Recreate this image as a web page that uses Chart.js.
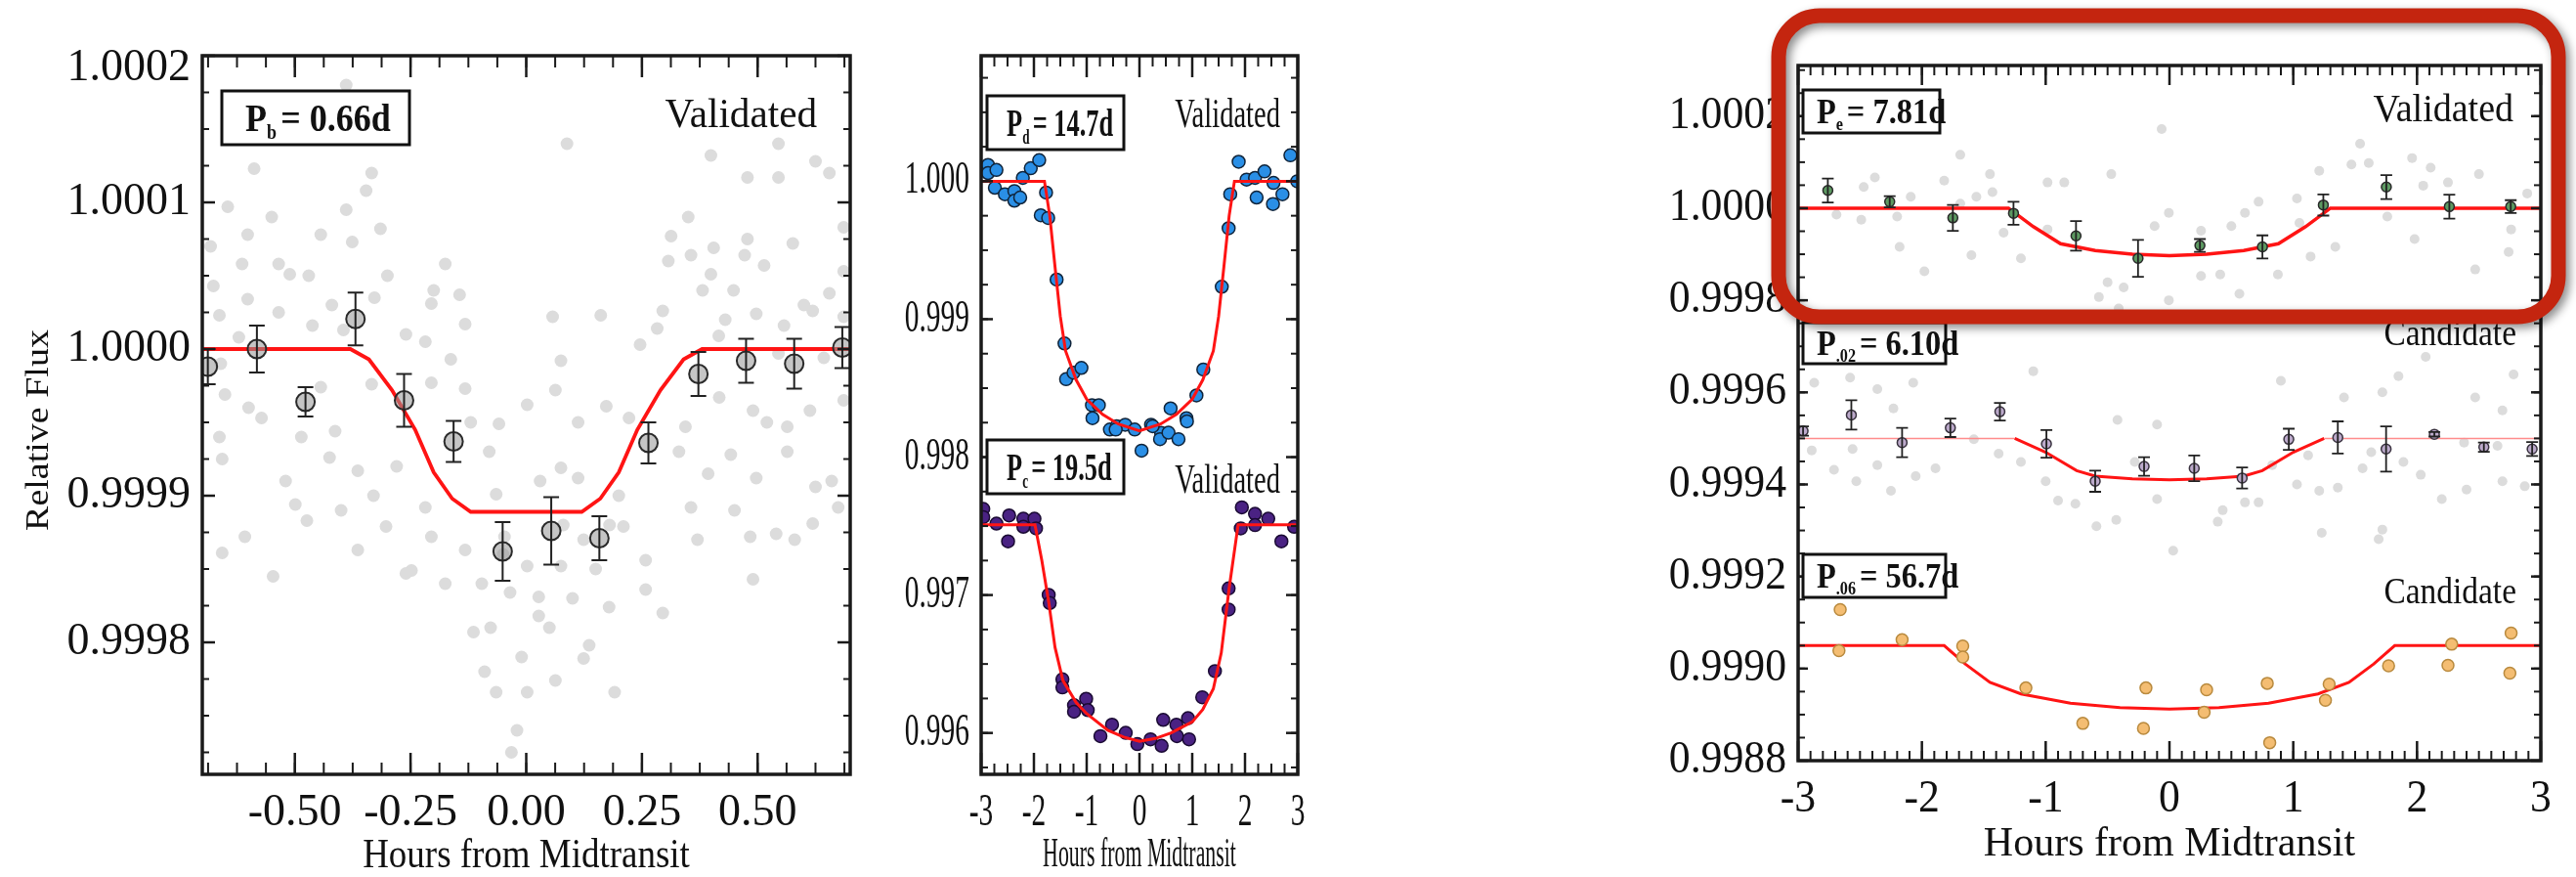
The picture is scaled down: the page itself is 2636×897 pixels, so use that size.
<!DOCTYPE html>
<html>
<head>
<meta charset="utf-8">
<script src="https://cdn.jsdelivr.net/npm/chart.js@4.4.1/dist/chart.umd.min.js"></script>
<style>
  html, body { margin: 0; padding: 0; background: #fff; }
  #wrap { position: relative; width: 2636px; height: 897px; overflow: hidden; }
  canvas { position: absolute; top: 0; }
</style>
</head>
<body>
<div id="wrap">
  <canvas id="c1" width="900" height="897" style="left:0px"></canvas>
  <canvas id="c2" width="480" height="897" style="left:880px"></canvas>
  <canvas id="c3" width="936" height="897" style="left:1700px"></canvas>
</div>
<script>
// ---------- panel 1 : P_b = 0.66d ----------
const p1XTicks = [-0.5, -0.25, 0, 0.25, 0.5];
const p1YTicks = [0.9998, 0.9999, 1.0000, 1.0001, 1.0002];
const p1Raw = [
  [-0.389,1.00018],[-0.588,1.000123],[-0.334,1.00012],[0.088,1.00014],[0.545,1.00014],[0.399,1.000132],
  [0.625,1.000128],[0.478,1.000117],[0.545,1.000117],[0.655,1.00012],[-0.346,1.000108],[-0.389,1.000095],
  [-0.645,1.000097],[-0.315,1.000082],[-0.602,1.000078],[-0.444,1.000078],[-0.376,1.000073],[-0.682,1.00007],
  [0.313,1.000077],[0.405,1.000069],[0.478,1.000075],[0.576,1.000072],[0.686,1.000083],[0.356,1.000064],
  [0.472,1.000064],[0.307,1.00006],[-0.175,1.000058],[-0.535,1.000058],[-0.614,1.000058],[0.514,1.000057],
  [0.399,1.000051],[0.686,1.000053],[-0.511,1.000051],[-0.676,1.000043],[-0.2,1.00004],[-0.144,1.000037],
  [0.381,1.00004],[0.448,1.00004],[0.655,1.000038],[-0.602,1.000034],[-0.328,1.000035],[0.295,1.000026],
  [0.619,1.000026],[0.497,1.000024],[0.057,1.000022],[0.161,1.000023],[-0.205,1.000031],[-0.132,1.000017],
  [-0.663,1.000023],[-0.535,1.000025],[-0.395,1.000013],[-0.462,1.000016],[0.283,1.000014],[0.557,1.000016],
  [0.686,1.000022],[-0.621,1.000008],[0.246,1.000003],[0.416,1.000009],[-0.218,1.000005],[0.075,0.999992],
  [0.643,0.999994],[0.545,0.999997],[-0.163,0.999993],[0.002,0.999962],[0.173,0.999961],[-0.132,0.999973],
  [-0.205,0.999977],[0.063,0.999972],[0.417,0.999967],[0.613,0.999958],[0.686,0.999965],[-0.651,0.999969],
  [-0.444,0.999974],[-0.334,0.999976],[-0.572,0.999953],[-0.413,0.999944],[0.222,0.999953],[0.344,0.999947],
  [0.49,0.999958],[0.564,0.999947],[-0.059,0.999949],[0.112,0.99995],[-0.663,0.99994],[-0.486,0.99994],
  [-0.657,0.999925],[-0.608,0.999872],[-0.657,0.999861],[-0.547,0.999845],[-0.499,0.999894],[-0.474,0.999883],
  [-0.425,0.999926],[-0.364,0.999917],[-0.364,0.999863],[-0.303,0.999879],[-0.248,0.999849],[-0.218,0.999892],
  [-0.205,0.999872],[-0.175,0.99984],[-0.132,0.999863],[-0.096,0.99984],[-0.114,0.999807],[-0.077,0.99981],
  [-0.065,0.999901],[-0.047,0.999872],[-0.035,0.999834],[0.002,0.999852],[0.027,0.999831],[0.075,0.999919],
  [0.075,0.999852],[0.112,0.999912],[0.124,0.99987],[0.136,0.999798],[0.124,0.999789],[0.027,0.999818],
  [0.179,0.999824],[0.21,0.999879],[0.258,0.999856],[0.258,0.999836],[0.295,0.99982],[0.356,0.999892],
  [0.393,0.999915],[0.442,0.999928],[0.497,0.999912],[0.484,0.999872],[0.54,0.999874],[0.564,0.99993],
  [0.625,0.999906],[0.619,0.999881],[0.674,0.999892],[0.49,0.999843],[-0.065,0.999766],[0.002,0.999766],
  [0.063,0.999774],[0.191,0.999766],[-0.02,0.99974],[-0.032,0.999725],[-0.26,0.999847],
  [-0.55,1.00009],[-0.47,1.00005],[-0.42,1.00003],[-0.3,1.00005],[-0.26,1.00001],[-0.66,0.99999],
  [-0.6,0.99996],[-0.52,0.99991],[-0.4,0.99989],[-0.33,0.9999],[-0.28,0.99992],[-0.12,0.99995],
  [-0.08,0.99993],[0.03,0.99991],[0.08,0.99988],[0.15,0.99985],[0.2,0.9999],[0.33,0.99993],
  [0.37,0.99987],[0.45,0.99989],[0.52,0.99995],[0.58,0.99987],[0.66,0.99991],[0.6,1.00003],
  [0.43,1.00002],[0.35,1.00009],[-0.01,0.99979],[0.05,0.99981],[-0.09,0.99978],[0.1,0.99983],
  [-0.05,0.99986],[0.18,0.99988]
];
const p1BinX = [-0.688,-0.582,-0.477,-0.369,-0.264,-0.157,-0.051,0.054,0.158,0.264,0.372,0.475,0.579,0.683];
const p1BinY = [0.999988,1.0,0.999964,1.0000205,0.999965,0.999937,0.999862,0.999876,0.999871,0.999936,0.999983,0.999992,0.99999,1.000001];
const p1BinErr = [0.000012,0.000016,0.00001,0.000018,0.000018,0.000014,0.00002,0.000023,0.000015,0.000014,0.000015,0.000015,0.000017,0.000014];
const p1ModelX = [-0.70,-0.38,-0.34,-0.29,-0.24,-0.20,-0.16,-0.12,0.12,0.16,0.20,0.24,0.29,0.34,0.38,0.70];
const p1ModelY = [1,1,0.999993,0.999972,0.999945,0.999916,0.999898,0.999889,0.999889,0.999898,0.999916,0.999945,0.999972,0.999993,1,1];

// ---------- panel 2 : P_d = 14.7d and P_c = 19.5d ----------
const p2XTicks = [-3, -2, -1, 0, 1, 2, 3];
const p2YTicks = [0.996, 0.997, 0.998, 0.999, 1.000];
const pdPoints = [
  [-2.87,1.000118],[-2.87,1.000059],[-2.71,1.000082],[-2.74,0.999953],[-2.55,0.999906],[-2.37,0.999929],
  [-2.37,0.999859],[-2.26,0.999882],[-2.21,1.000024],[-2.06,1.000094],[-1.9,1.000153],[-1.77,0.999918],
  [-1.87,0.999753],[-1.73,0.999734],[-1.57,0.999287],[-1.42,0.998824],[-1.39,0.998565],[-1.25,0.998612],
  [-1.1,0.998647],[-0.9,0.998376],[-0.77,0.998376],[-0.89,0.998282],[-0.56,0.9982],[-0.43,0.998224],
  [-0.27,0.998235],[-0.09,0.9982],[0.22,0.998235],[0.41,0.998176],[0.59,0.998353],[0.89,0.998282],
  [1.08,0.998447],[1.21,0.998635],[1.56,0.999235],[1.69,0.999659],[1.72,0.999906],[1.88,1.000141],
  [2.03,1.000012],[2.19,1.000024],[2.22,0.999882],[2.37,1.000071],[2.54,0.999988],[2.53,0.999835],
  [2.71,0.999906],[2.86,1.000188],[2.99,1.0],[0.04,0.998047],[0.39,0.99813],[0.55,0.998177],
  [0.74,0.99813],[0.9,0.998259],[-0.45,0.9982],[0.25,0.998224]
];
const pdModelX = [-3,-1.8,-1.7,-1.6,-1.5,-1.4,-1.2,-1.0,-0.7,-0.4,0,0.4,0.7,1.0,1.2,1.4,1.5,1.6,1.7,1.8,3];
const pdModelY = [1,1,0.99975,0.99938,0.99902,0.99877,0.99856,0.99842,0.99831,0.99824,0.99819,0.99824,0.99831,0.99842,0.99856,0.99877,0.99902,0.99938,0.99975,1,1];
const pcPoints = [
  [-2.96,0.997624],[-2.96,0.997565],[-2.71,0.997518],[-2.47,0.997577],[-2.49,0.997389],[-2.2,0.997553],
  [-2.2,0.997495],[-1.99,0.997553],[-1.96,0.997483],[-1.72,0.997001],[-1.7,0.996942],[-1.46,0.996389],
  [-1.46,0.99633],[-1.24,0.996201],[-1.24,0.996154],[-1.01,0.996248],[-0.98,0.996166],[-0.74,0.995977],
  [-0.52,0.99606],[-0.26,0.996001],[-0.04,0.995919],[0.21,0.995954],[0.42,0.995907],[0.45,0.996095],
  [0.7,0.99606],[0.71,0.995977],[0.92,0.996107],[0.94,0.995954],[1.19,0.996259],[1.43,0.996448],
  [1.69,0.997048],[1.69,0.996895],[1.92,0.997483],[1.94,0.997636],[2.19,0.997589],[2.19,0.997507],
  [2.44,0.997553],[2.69,0.997389],[2.93,0.997495]
];
const pcModelX = [-3,-1.98,-1.85,-1.72,-1.6,-1.45,-1.2,-1.0,-0.6,-0.3,0,0.3,0.6,1.0,1.2,1.4,1.55,1.7,1.87,3];
const pcModelY = [0.99751,0.99751,0.99725,0.99695,0.99662,0.99638,0.99622,0.99614,0.99602,0.99597,0.99594,0.99596,0.996,0.99608,0.99617,0.99632,0.99658,0.99705,0.99751,0.99751];

// ---------- panel 3 : P_e = 7.81d, P_.02 = 6.10d, P_.06 = 56.7d ----------
const p3XTicks = [-3, -2, -1, 0, 1, 2, 3];
const p3YTicks = [0.9988, 0.9990, 0.9992, 0.9994, 0.9996, 0.9998, 1.0000, 1.0002];
const peRaw = [
  [-0.063,1.000172],[-1.69,1.000116],[1.54,1.00014],[1.96,1.000109],[1.61,1.000098],[2.11,1.000088],
  [1.47,1.000095],[-1.45,1.000074],[-2.38,1.000067],[-1.82,1.00006],[-1.43,1.000035],[-0.985,1.000056],
  [-0.85,1.000056],[-0.47,1.000074],[1.21,1.000081],[2.5,1.000074],[2.25,1.000056],[2.05,1.000049],
  [1.03,1.000021],[2.89,1.000032],[-2.47,1.000046],[-2.09,1.000025],[-2.2,0.999982],[-1.69,1.00001],
  [-1.56,1.000025],[-2.49,0.999975],[-2.69,0.999986],[-1.34,0.999947],[-1.2,0.999891],[-2.18,0.999916],
  [-1.98,0.999863],[-1.6,0.999898],[-0.005,0.99999],[-0.12,0.999961],[0.255,0.999951],[0.5,0.999961],
  [0.61,0.99999],[0.72,1.000014],[0.876,0.999856],[1.14,0.999895],[1.34,0.999916],[1.98,0.999933],
  [2.76,0.999954],[2.74,0.999905],[2.47,0.999867],[-0.5,0.999839],[-0.37,0.999828],[-0.57,0.999807],
  [-0.41,0.999782],[-0.005,0.9998],[0.255,0.999853],[0.41,0.999856],[0.565,0.999814],[-0.985,0.999954],
  [1.76,0.999982],[1.05,0.999968]
];
const peBinX = [-2.76,-2.26,-1.75,-1.26,-0.755,-0.254,0.246,0.751,1.243,1.752,2.261,2.757];
const peBinY = [1.0000386,1.000014,0.999979,0.999989,0.99994,0.999891,0.999919,0.999916,1.000007,1.000046,1.0000035,1.0000035];
const peBinErr = [0.000026,0.000012,0.000028,0.000025,0.000032,0.00004,0.000014,0.000025,0.000023,0.000026,0.000026,0.000014];
const peModelX = [-3,-1.3,-1.1,-0.88,-0.6,-0.3,0,0.3,0.6,0.88,1.1,1.3,3];
const peModelY = [1,1,0.99996,0.999923,0.999908,0.9999,0.999897,0.9999,0.999908,0.999923,0.99996,1,1];

const p02Raw = [
  [-2.58,0.999632],[-2.87,0.999621],[-2.36,0.999607],[-2.07,0.999621],[-2.23,0.999565],[-1.1,0.999646],
  [-0.1,0.99953],[0.9,0.999625],[1.41,0.999589],[1.85,0.999635],[2.07,0.999677],[2.47,0.999589],
  [2.69,0.999561],[2.78,0.999639],[1.72,0.9996],[-0.42,0.99954],[-2.89,0.999474],[-2.71,0.999432],
  [-2.56,0.999477],[-2.53,0.999407],[-2.25,0.999386],[-2.36,0.999442],[-2.05,0.999418],[-1.89,0.999435],
  [-1.58,0.999498],[-1.38,0.999467],[-1.2,0.999449],[-1.0,0.999407],[-0.9,0.999365],[-0.76,0.999358],
  [-0.59,0.999309],[-0.43,0.999323],[-0.28,0.999449],[-0.1,0.999368],[0.03,0.999256],[0.39,0.999319],
  [0.43,0.999344],[0.61,0.999361],[0.72,0.999361],[0.83,0.999442],[1.03,0.9994],[1.12,0.999463],
  [1.21,0.999386],[1.23,0.999295],[1.36,0.999393],[1.56,0.999435],[1.63,0.99947],[1.72,0.999302],
  [1.69,0.999281],[1.89,0.999449],[2.03,0.999421],[2.2,0.999368],[2.4,0.999389],[2.69,0.999407],
  [2.87,0.999396],[2.65,0.999484],[2.38,0.999491]
];
const p02BinX = [-2.96,-2.57,-2.16,-1.77,-1.37,-0.994,-0.6,-0.205,0.2,0.587,0.964,1.36,1.75,2.14,2.54,2.93];
const p02BinY = [0.999516,0.999551,0.999491,0.999523,0.999558,0.999488,0.999407,0.999439,0.999435,0.999414,0.999498,0.999502,0.999477,0.999509,0.999481,0.999477];
const p02BinErr = [0.00001,0.000032,0.000032,0.00002,0.000019,0.00003,0.000023,0.00002,0.000028,0.000023,0.000023,0.000035,0.000049,0.000005,0.00001,0.000015];
const p02ModelX = [-3,-1.25,-1.0,-0.75,-0.6,-0.3,0,0.3,0.6,0.75,1.0,1.25,3];
const p02ModelY = [0.9995,0.9995,0.99947,0.99943,0.999418,0.999412,0.99941,0.999412,0.999418,0.99943,0.99947,0.9995,0.9995];

const p06Points = [
  [-2.66,0.999128],[-2.67,0.999039],[-2.16,0.999063],[-1.67,0.999049],[-1.67,0.999025],[-1.16,0.998958],
  [-0.7,0.998881],[-0.19,0.998958],[-0.21,0.99887],[0.3,0.998954],[0.28,0.998905],[0.79,0.998968],
  [0.81,0.998839],[1.29,0.998966],[1.26,0.998931],[1.77,0.999006],[2.25,0.999007],[2.28,0.999053],
  [2.76,0.999077],[2.75,0.99899]
];
const p06ModelX = [-3,-1.82,-1.65,-1.45,-1.2,-0.8,-0.4,0,0.4,0.8,1.2,1.45,1.65,1.82,3];
const p06ModelY = [0.99905,0.99905,0.99901,0.99897,0.998945,0.998925,0.998915,0.998912,0.998915,0.998925,0.998945,0.99897,0.99901,0.99905,0.99905];

// ---------- helpers ----------
const FONT = '"Liberation Serif", "Times New Roman", serif';
Chart.defaults.font.family = FONT;
Chart.defaults.color = '#111';

const pairs = arr => arr.map(p => ({ x: p[0], y: p[1] }));
const zip = (xs, ys) => xs.map((x, i) => ({ x: x, y: ys[i] }));

// inward tick marks + frame, like the IDL plots
const frame = {
  id: 'frame',
  afterDraw(chart, args, o) {
    const { ctx, chartArea: a, scales: { x, y } } = chart;
    ctx.save();
    ctx.strokeStyle = '#1a1a1a';
    const line = (x0, y0, x1, y1) => { ctx.beginPath(); ctx.moveTo(x0, y0); ctx.lineTo(x1, y1); ctx.stroke(); };
    const minors = (min, max, step) => {
      const out = [];
      for (let k = Math.ceil(min / step - 1e-6); k <= Math.floor(max / step + 1e-6); k++) out.push(k * step);
      return out;
    };
    ctx.lineWidth = 2;
    minors(x.min, x.max, o.xMinor).forEach(v => {
      const px = x.getPixelForValue(v);
      line(px, a.bottom, px, a.bottom - o.xMinorLen);
      line(px, a.top, px, a.top + o.xMinorLen);
    });
    minors(y.min, y.max, o.yMinor).forEach(v => {
      const py = y.getPixelForValue(v);
      line(a.left, py, a.left + o.yMinorLen, py);
      line(a.right, py, a.right - o.yMinorLen, py);
    });
    ctx.lineWidth = 2.5;
    x.ticks.forEach(t => {
      const px = x.getPixelForValue(t.value);
      line(px, a.bottom, px, a.bottom - o.xMajorLen);
      line(px, a.top, px, a.top + o.xMajorLen);
    });
    y.ticks.forEach(t => {
      const py = y.getPixelForValue(t.value);
      line(a.left, py, a.left + o.yMajorLen, py);
      line(a.right, py, a.right - o.yMajorLen, py);
    });
    ctx.lineWidth = 3.5;
    ctx.strokeRect(a.left, a.top, a.width, a.height);
    ctx.restore();
  }
};

// tick labels and axis titles, squeezed sideways the way the figure is
const axisText = {
  id: 'axisText',
  afterDraw(chart, args, o) {
    const { ctx, chartArea: a, scales: { x, y } } = chart;
    const put = (text, px, py, align, size, sx, rotated) => {
      ctx.save();
      ctx.translate(px, py);
      if (rotated) { ctx.rotate(-Math.PI / 2); ctx.scale(1, sx); } else { ctx.scale(sx, 1); }
      ctx.font = size + 'px ' + FONT;
      ctx.fillStyle = '#111';
      ctx.textAlign = align;
      ctx.textBaseline = 'middle';
      ctx.fillText(text, 0, 0);
      ctx.restore();
    };
    x.ticks.forEach(t => put(t.value.toFixed(o.xDigits), x.getPixelForValue(t.value), a.bottom + o.xLabelDy, 'center', o.size, o.sx));
    y.ticks.forEach(t => put(t.value.toFixed(o.yDigits), a.left - 12,
      Math.max(y.getPixelForValue(t.value), a.top + o.topClamp), 'right', o.size, o.sx));
    put('Hours from Midtransit', (a.left + a.right) / 2, o.xTitleY, 'center', o.titleSize, o.titleSx);
    if (o.yTitle) put(o.yTitle, o.yTitleX, o.yTitleY, 'center', o.yTitleSize, o.yTitleSx, true);
  }
};

const errorBars = {
  id: 'errorBars',
  afterDatasetsDraw(chart) {
    const { ctx, chartArea: a } = chart;
    const y = chart.scales.y;
    ctx.save();
    ctx.beginPath(); ctx.rect(a.left, a.top, a.width, a.height); ctx.clip();
    chart.data.datasets.forEach((ds, i) => {
      if (!ds.errors) return;
      ctx.strokeStyle = ds.errColor;
      ctx.lineWidth = ds.errWidth;
      chart.getDatasetMeta(i).data.forEach((pt, j) => {
        const v = ds.data[j].y, e = ds.errors[j];
        const y0 = y.getPixelForValue(v - e), y1 = y.getPixelForValue(v + e);
        ctx.beginPath();
        ctx.moveTo(pt.x, y0); ctx.lineTo(pt.x, y1);
        ctx.moveTo(pt.x - ds.capW, y0); ctx.lineTo(pt.x + ds.capW, y0);
        ctx.moveTo(pt.x - ds.capW, y1); ctx.lineTo(pt.x + ds.capW, y1);
        ctx.stroke();
      });
    });
    ctx.restore();
  }
};

// period boxes ("P_b = 0.66d") and status words
const notes = {
  id: 'notes',
  afterDraw(chart, args, o) {
    const { ctx, chartArea: a } = chart;
    ctx.save();
    ctx.strokeStyle = '#111';
    (o.boxes || []).forEach(b => {
      const left = a.left + b.dx, top = a.top + b.dy;
      ctx.fillStyle = '#fff';
      ctx.fillRect(left, top, b.w, b.h);
      ctx.fillStyle = '#111';
      ctx.lineWidth = 3;
      ctx.strokeRect(left, top, b.w, b.h);
      const base = top + b.h / 2 + b.size * 0.33;
      ctx.save();
      ctx.translate(left + b.pad, base);
      ctx.scale(b.sx, 1);
      ctx.textAlign = 'left';
      ctx.textBaseline = 'alphabetic';
      let cx = 0;
      ctx.font = 'bold ' + b.size + 'px ' + FONT;
      ctx.fillText('P', cx, 0);
      cx += ctx.measureText('P').width;
      ctx.font = 'bold ' + Math.round(b.size * 0.5) + 'px ' + FONT;
      ctx.fillText(b.sub, cx, b.size * 0.2);
      cx += ctx.measureText(b.sub).width + b.size * 0.12;
      ctx.font = 'bold ' + b.size + 'px ' + FONT;
      ctx.fillText(b.text, cx, 0);
      ctx.restore();
    });
    (o.status || []).forEach(s => {
      ctx.save();
      ctx.translate(a.right - s.dx, a.top + s.dy);
      ctx.scale(s.sx, 1);
      ctx.font = s.size + 'px ' + FONT;
      ctx.fillStyle = '#111';
      ctx.textAlign = 'right';
      ctx.textBaseline = 'middle';
      ctx.fillText(s.text, 0, 0);
      ctx.restore();
    });
    ctx.restore();
  }
};

// red rounded highlight around the top sub-panel of panel 3
const highlight = {
  id: 'highlight',
  afterDraw(chart, args, o) {
    if (!o.show) return;
    const { ctx, chartArea: a } = chart;
    const l = a.left + o.dl, t = a.top + o.dt, r = a.right + o.dr, b = a.top + o.db, rad = o.radius;
    ctx.save();
    ctx.shadowColor = 'rgba(0,0,0,0.45)';
    ctx.shadowBlur = 10;
    ctx.shadowOffsetX = 4;
    ctx.shadowOffsetY = 4;
    ctx.strokeStyle = '#c4250f';
    ctx.lineWidth = 15;
    ctx.beginPath();
    ctx.moveTo(l + rad, t);
    ctx.arcTo(r, t, r, b, rad);
    ctx.arcTo(r, b, l, b, rad);
    ctx.arcTo(l, b, l, t, rad);
    ctx.arcTo(l, t, r, t, rad);
    ctx.closePath();
    ctx.stroke();
    ctx.restore();
  }
};

function axes(o) {
  return {
    x: {
      type: 'linear', min: o.xMin, max: o.xMax,
      grid: { display: false }, border: { display: false },
      afterBuildTicks: s => { s.ticks = o.xTicks.map(v => ({ value: v })); },
      afterFit: s => { s.height = o.xH; },
      ticks: { display: false },
      title: { display: false }
    },
    y: {
      type: 'linear', min: o.yMin, max: o.yMax,
      grid: { display: false }, border: { display: false },
      afterBuildTicks: s => { s.ticks = o.yTicks.map(v => ({ value: v })); },
      afterFit: s => { s.width = o.yW; },
      ticks: { display: false },
      title: { display: false }
    }
  };
}

function baseOptions(pad, scales, plug) {
  return {
    responsive: false,
    animation: false,
    events: [],
    layout: { padding: pad },
    scales: scales,
    plugins: Object.assign({ legend: { display: false }, tooltip: { enabled: false } }, plug)
  };
}

const grayDots = (data, r) => ({ data: pairs(data), pointRadius: r, backgroundColor: '#dcdcdc', borderWidth: 0, order: 5 });
const model = (xs, ys, w, extra) => Object.assign({ data: zip(xs, ys), showLine: true, pointRadius: 0, borderColor: '#ff1414', borderWidth: w, tension: 0, order: 3 }, extra || {});

// ---------- panel 1 ----------
new Chart(document.getElementById('c1'), {
  type: 'scatter',
  data: {
    datasets: [
      grayDots(p1Raw, 6.5),
      model(p1ModelX, p1ModelY, 3.8),
      { data: zip(p1BinX, p1BinY), errors: p1BinErr, errColor: '#222', errWidth: 2, capW: 8,
        pointRadius: 9.5, backgroundColor: 'rgba(150,150,150,0.55)', borderColor: '#2a2a2a', borderWidth: 2, order: 1 }
    ]
  },
  options: baseOptions({ top: 57, right: 30, left: 0, bottom: 0 },
    axes({ xMin: -0.7, xMax: 0.7, yMin: 0.99971, yMax: 1.0002, xTicks: p1XTicks, yTicks: p1YTicks, xH: 105, yW: 207 }),
    { frame: { xMinor: 0.0625, yMinor: 0.000025, xMajorLen: 22, xMinorLen: 12, yMajorLen: 13, yMinorLen: 7 },
      axisText: { size: 46, sx: 1.0, xDigits: 2, yDigits: 4, xLabelDy: 40, topClamp: 13,
                  titleSize: 42, titleSx: 0.88, xTitleY: 876,
                  yTitle: 'Relative Flux', yTitleX: 40, yTitleY: 440, yTitleSize: 38, yTitleSx: 0.9 },
      notes: { boxes: [{ dx: 20, dy: 36, w: 192, h: 55, pad: 24, size: 40, sx: 0.9, sub: 'b', text: '= 0.66d' }],
               status: [{ text: 'Validated', dx: 34, dy: 62, size: 42, sx: 0.98 }] } }),
  plugins: [frame, errorBars, notes, axisText]
});

// ---------- panel 2 ----------
new Chart(document.getElementById('c2'), {
  type: 'scatter',
  data: {
    datasets: [
      model(pdModelX, pdModelY, 3),
      model(pcModelX, pcModelY, 3),
      { data: pairs(pdPoints), pointRadius: 6.5, backgroundColor: '#2a8fe6', borderColor: '#10243a', borderWidth: 1.5, order: 4 },
      { data: pairs(pcPoints), pointRadius: 6.5, backgroundColor: '#4a2283', borderColor: '#1a0a33', borderWidth: 1.5, order: 4 }
    ]
  },
  options: baseOptions({ top: 57, right: 32, left: 0, bottom: 0 },
    axes({ xMin: -3, xMax: 3, yMin: 0.9957, yMax: 1.00091, xTicks: p2XTicks, yTicks: p2YTicks, xH: 105, yW: 124 }),
    { frame: { xMinor: 0.25, yMinor: 0.00025, xMajorLen: 22, xMinorLen: 11, yMajorLen: 12, yMinorLen: 7 },
      axisText: { size: 46, sx: 0.64, xDigits: 0, yDigits: 3, xLabelDy: 40, topClamp: 0,
                  titleSize: 42, titleSx: 0.52, xTitleY: 875 },
      notes: { boxes: [{ dx: 6, dy: 41, w: 140, h: 55, pad: 20, size: 40, sx: 0.66, sub: 'd', text: '= 14.7d' },
                       { dx: 6, dy: 393, w: 140, h: 55, pad: 20, size: 40, sx: 0.66, sub: 'c', text: '= 19.5d' }],
               status: [{ text: 'Validated', dx: 18, dy: 62, size: 42, sx: 0.68 },
                        { text: 'Validated', dx: 18, dy: 436, size: 42, sx: 0.68 }] } }),
  plugins: [frame, notes, axisText]
});

// ---------- panel 3 ----------
new Chart(document.getElementById('c3'), {
  type: 'scatter',
  data: {
    datasets: [
      grayDots(peRaw, 5),
      grayDots(p02Raw, 5),
      model(peModelX, peModelY, 3.5),
      model(p02ModelX, p02ModelY, 3, {
        segment: {
          borderWidth: c => (c.p0.parsed.y >= 0.99949 && c.p1.parsed.y >= 0.99949) ? 1.5 : 3,
          borderColor: c => (c.p0.parsed.y >= 0.99949 && c.p1.parsed.y >= 0.99949) ? '#ff8c8c' : '#ff1414'
        }
      }),
      model(p06ModelX, p06ModelY, 3),
      { data: zip(peBinX, peBinY), errors: peBinErr, errColor: '#222', errWidth: 1.8, capW: 6,
        pointRadius: 5, backgroundColor: '#5d9a62', borderColor: '#2a2a2a', borderWidth: 1.5, order: 1 },
      { data: zip(p02BinX, p02BinY), errors: p02BinErr, errColor: '#222', errWidth: 1.8, capW: 6,
        pointRadius: 5, backgroundColor: '#bcaacb', borderColor: '#3a3340', borderWidth: 1.5, order: 1 },
      { data: pairs(p06Points), pointRadius: 6, backgroundColor: '#f4bd72', borderColor: '#b98a3e', borderWidth: 1.5, order: 1 }
    ]
  },
  options: baseOptions({ top: 67, right: 36, left: 0, bottom: 0 },
    axes({ xMin: -3, xMax: 3, yMin: 0.9988, yMax: 1.00031, xTicks: p3XTicks, yTicks: p3YTicks, xH: 119, yW: 140 }),
    { frame: { xMinor: 0.1, yMinor: 0.00005, xMajorLen: 20, xMinorLen: 10, yMajorLen: 10, yMinorLen: 7 },
      axisText: { size: 46, sx: 0.95, xDigits: 0, yDigits: 4, xLabelDy: 40, topClamp: 0,
                  titleSize: 42, titleSx: 1.0, xTitleY: 864 },
      notes: { boxes: [{ dx: 5, dy: 25, w: 140, h: 44, pad: 14, size: 36, sx: 0.9, sub: 'e', text: '= 7.81d' },
                       { dx: 5, dy: 263, w: 146, h: 42, pad: 14, size: 36, sx: 0.9, sub: '.02', text: '= 6.10d' },
                       { dx: 5, dy: 500, w: 146, h: 44, pad: 14, size: 36, sx: 0.9, sub: '.06', text: '= 56.7d' }],
               status: [{ text: 'Validated', dx: 28, dy: 46, size: 40, sx: 0.95 },
                        { text: 'Candidate', dx: 25, dy: 276, size: 38, sx: 0.88 },
                        { text: 'Candidate', dx: 25, dy: 540, size: 38, sx: 0.88 }] },
      highlight: { show: true, dl: -20, dt: -51, dr: 18, db: 257, radius: 42 } }),
  plugins: [frame, errorBars, notes, axisText, highlight]
});
</script>
</body>
</html>
